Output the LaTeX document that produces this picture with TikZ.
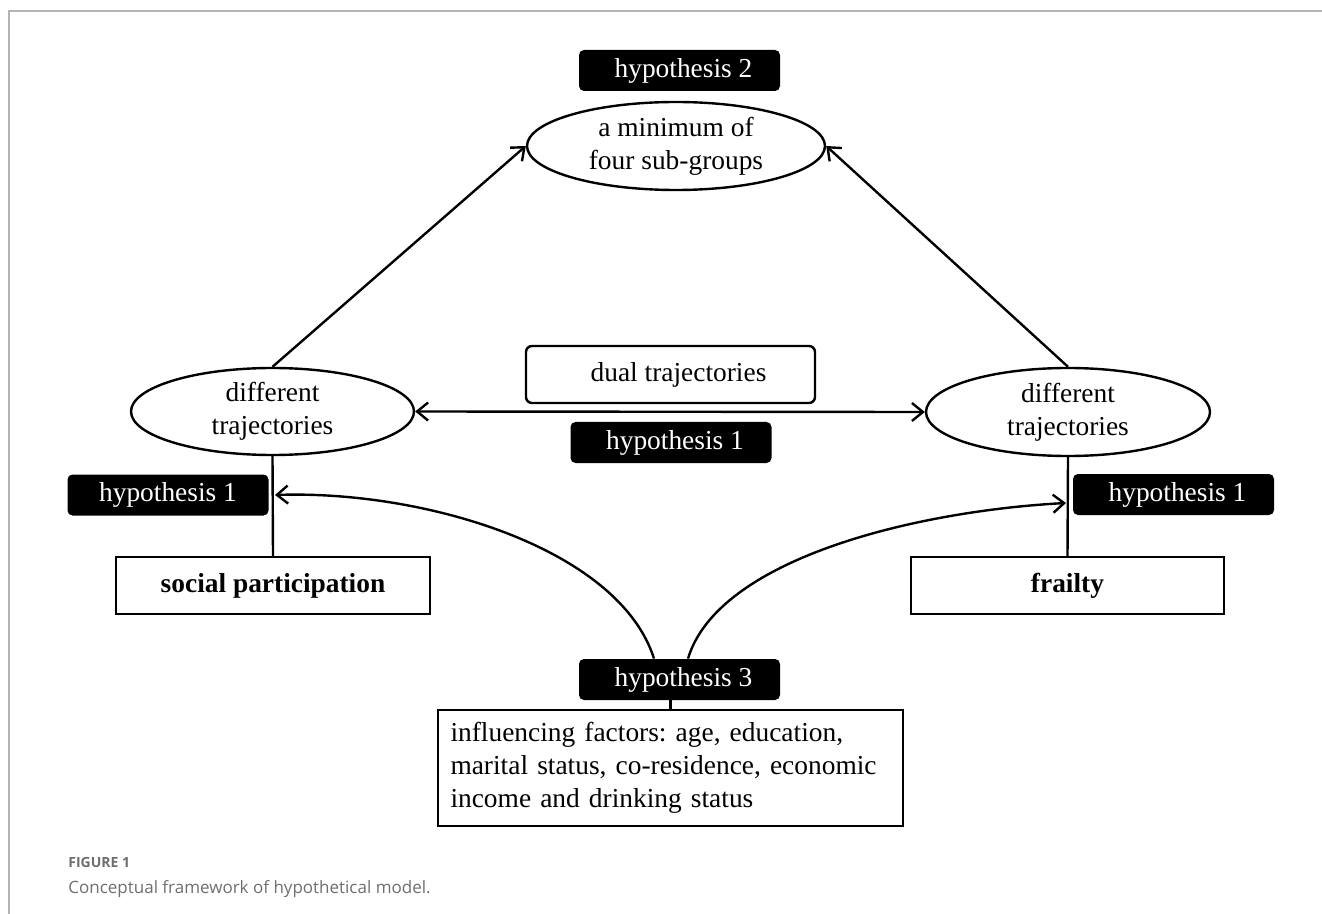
\documentclass[tikz,border=0pt]{standalone}
\usepackage{fontspec}
\setmainfont{Liberation Serif}
\newfontfamily\capfont{Open Sans}
\usetikzlibrary{shapes.geometric,arrows.meta}
\definecolor{framegray}{HTML}{B4B4B4}
\definecolor{capgray}{HTML}{6E6E6E}
\frenchspacing
\tikzset{
  hypbox/.style={fill=black,text=white,rounded corners=2.5pt,minimum width=100.5pt,minimum height=20.5pt,inner sep=0pt},
  oval/.style={draw,ellipse,line width=1.2pt,align=center,inner sep=0pt},
  plainbox/.style={draw,line width=1.2pt,inner sep=0pt},
  link/.style={line width=1.2pt}
}
\begin{document}
\begin{tikzpicture}[x=0.5pt,y=-0.5pt,font=\fontsize{13.7}{16.5}\selectfont,
    >={Straight Barb[length=5.5pt,width=9pt]}]
\useasboundingbox (0,0) rectangle (1322,914);
\draw[framegray,line width=1pt] (1322,11) -- (9,11) -- (9,914);

\node [hypbox] (hypII) at (679.5,70.5) {\hspace{4pt}hypothesis 2};
\node [oval,minimum width=149pt,minimum height=44pt] (groups) at (676,146) {a minimum of\\four sub-groups};

\node [oval,minimum width=141.5pt,minimum height=43.5pt] (trajL) at (272.5,411.5) {different\\trajectories};
\node [oval,minimum width=142pt,minimum height=44pt] (trajR) at (1068,412) {different\\trajectories};

\node [plainbox,rounded corners=3pt,minimum width=144.5pt,minimum height=28.5pt] (dual) at (670.5,374.5) {\hspace{8pt}dual trajectories};
\node [hypbox] (hypImid) at (671,442.5) {\hspace{4pt}hypothesis 1};

\node [hypbox] (hypIL) at (168,495) {hypothesis 1};
\node [hypbox] (hypIR) at (1173.5,494.5) {\hspace{4pt}hypothesis 1};

\node [plainbox,minimum width=157pt,minimum height=28.5pt] (social) at (273,585.5) {\bfseries social participation};
\node [plainbox,minimum width=156.5pt,minimum height=28.5pt] (frailty) at (1067.5,585.5) {\bfseries frailty};

\node [hypbox] (hypIII) at (679.5,679.5) {\hspace{4pt}hypothesis 3};
\node [plainbox,minimum width=232.5pt,minimum height=58pt,text width=220pt,inner xsep=6.25pt,align=left] (factors) at (670.5,768)
  {influencing factors: age, education,\\marital status, co-residence, economic\\income and drinking status};

\coordinate (tipL) at (275,495);
\coordinate (tipR) at (1066,503);

\draw [link,->] (trajL.north) -- (groups.west);
\draw [link,->] (trajR.north) -- (groups.east);
\draw [link,<->] (trajL.east) -- (trajR.west);
\draw [link] (trajL.south) -- (social.north);
\draw [link] (trajR.south) -- (frailty.north);
\draw [link,->] ([xshift=-12.75pt]hypIII.north) .. controls +(-35,-110) and +(150,-5) .. (tipL);
\draw [link,->] ([xshift=4.25pt]hypIII.north) .. controls +(30,-100) and +(-150,8) .. (tipR);
\draw [link] (factors.north) -- (factors.north |- hypIII.south);

\node [anchor=base west,text=capgray,font=\capfont\bfseries\fontsize{7}{8}\selectfont,inner sep=0pt] (figlabel) at (68,867) {FIGURE 1};
\node [anchor=base west,text=capgray,font=\capfont\fontsize{8.5}{10}\selectfont,inner sep=0pt] (caption) at (68,893) {Conceptual framework of hypothetical model.};
\end{tikzpicture}
\end{document}
